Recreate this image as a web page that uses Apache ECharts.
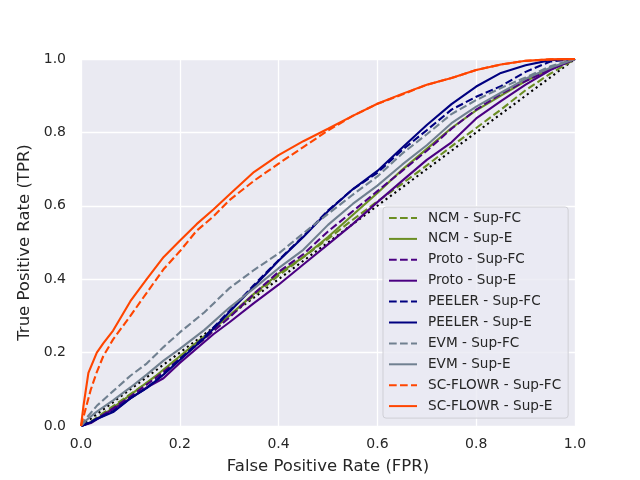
<!DOCTYPE html>
<html>
<head>
<meta charset="utf-8">
<script src="https://cdn.jsdelivr.net/npm/echarts@6/dist/echarts.min.js"></script>
<style>html,body{margin:0;padding:0;background:#fff;}#c{width:640px;height:480px;}</style>
</head>
<body>
<div id="c"></div>
<script>
const xTicks = [0, 0.2, 0.4, 0.6, 0.8, 1.0];
const yTicks = [0, 0.2, 0.4, 0.6, 0.8, 1.0];

const chance = [[0,0],[1,1]];

const ncmSupFC = [[0,0],[0.02,0.012],[0.05,0.04],[0.1,0.087],[0.15,0.132],[0.2,0.186],[0.25,0.238],[0.3,0.298],[0.35,0.355],[0.4,0.41],[0.45,0.46],[0.5,0.51],[0.55,0.562],[0.6,0.612],[0.65,0.66],[0.7,0.71],[0.75,0.762],[0.8,0.812],[0.85,0.862],[0.9,0.915],[0.95,0.96],[1,1]];
const ncmSupE = [[0,0],[0.02,0.01],[0.05,0.035],[0.1,0.085],[0.15,0.135],[0.2,0.19],[0.25,0.245],[0.3,0.3],[0.35,0.36],[0.4,0.415],[0.45,0.46],[0.5,0.515],[0.55,0.575],[0.6,0.635],[0.65,0.698],[0.7,0.755],[0.75,0.812],[0.8,0.86],[0.85,0.9],[0.9,0.94],[0.95,0.972],[1,1]];
const protoSupFC = [[0,0],[0.02,0.01],[0.05,0.035],[0.1,0.08],[0.15,0.13],[0.2,0.182],[0.25,0.238],[0.3,0.295],[0.35,0.36],[0.4,0.42],[0.45,0.468],[0.5,0.53],[0.55,0.585],[0.6,0.64],[0.65,0.695],[0.7,0.75],[0.75,0.81],[0.8,0.862],[0.85,0.905],[0.9,0.94],[0.95,0.972],[1,1]];
const protoSupE = [[0,0],[0.02,0.008],[0.065,0.046],[0.1,0.075],[0.133,0.105],[0.167,0.13],[0.2,0.172],[0.268,0.25],[0.3,0.282],[0.35,0.335],[0.4,0.385],[0.45,0.44],[0.5,0.495],[0.55,0.55],[0.6,0.61],[0.65,0.668],[0.7,0.725],[0.75,0.773],[0.8,0.838],[0.85,0.885],[0.9,0.93],[0.95,0.97],[1,1]];
const peelerSupFC = [[0,0],[0.02,0.011],[0.032,0.02],[0.065,0.04],[0.1,0.076],[0.133,0.104],[0.167,0.142],[0.2,0.182],[0.25,0.243],[0.3,0.313],[0.35,0.384],[0.4,0.452],[0.45,0.517],[0.5,0.587],[0.55,0.645],[0.6,0.69],[0.65,0.752],[0.7,0.806],[0.75,0.862],[0.8,0.897],[0.85,0.926],[0.9,0.965],[0.95,0.993],[1,1]];
const peelerSupE = [[0,0],[0.02,0.01],[0.032,0.019],[0.065,0.038],[0.1,0.075],[0.133,0.103],[0.167,0.14],[0.2,0.18],[0.25,0.24],[0.3,0.31],[0.35,0.38],[0.4,0.45],[0.45,0.515],[0.5,0.585],[0.55,0.645],[0.6,0.695],[0.65,0.758],[0.7,0.82],[0.75,0.877],[0.8,0.925],[0.85,0.962],[0.9,0.983],[0.95,0.997],[1,1]];
const evmSupFC = [[0,0],[0.01,0.02],[0.032,0.055],[0.065,0.095],[0.1,0.137],[0.133,0.17],[0.167,0.215],[0.2,0.255],[0.25,0.31],[0.3,0.375],[0.35,0.425],[0.4,0.47],[0.45,0.525],[0.5,0.578],[0.55,0.63],[0.6,0.68],[0.65,0.742],[0.7,0.795],[0.75,0.85],[0.8,0.888],[0.85,0.921],[0.9,0.95],[0.95,0.98],[1,1]];
const evmSupE = [[0,0],[0.01,0.015],[0.03,0.037],[0.065,0.07],[0.1,0.105],[0.133,0.14],[0.167,0.178],[0.2,0.21],[0.25,0.262],[0.3,0.322],[0.35,0.375],[0.4,0.43],[0.45,0.48],[0.5,0.548],[0.55,0.605],[0.6,0.655],[0.65,0.712],[0.7,0.765],[0.75,0.825],[0.8,0.87],[0.85,0.908],[0.9,0.946],[0.95,0.976],[1,1]];
const scflowrSupFC = [[0,0],[0.01,0.05],[0.02,0.1],[0.032,0.147],[0.045,0.19],[0.065,0.236],[0.1,0.3],[0.133,0.363],[0.167,0.427],[0.2,0.476],[0.234,0.532],[0.268,0.571],[0.3,0.615],[0.35,0.668],[0.4,0.715],[0.45,0.76],[0.5,0.805],[0.55,0.845],[0.6,0.878],[0.65,0.903],[0.7,0.93],[0.75,0.948],[0.8,0.97],[0.85,0.985],[0.9,0.995],[0.95,0.999],[1,1]];
const scflowrSupE = [[0,0],[0.005,0.055],[0.015,0.145],[0.032,0.2],[0.045,0.225],[0.065,0.26],[0.1,0.34],[0.133,0.4],[0.167,0.46],[0.2,0.505],[0.234,0.55],[0.268,0.59],[0.3,0.63],[0.35,0.692],[0.4,0.738],[0.45,0.776],[0.5,0.81],[0.55,0.845],[0.6,0.878],[0.65,0.905],[0.7,0.93],[0.75,0.948],[0.8,0.97],[0.85,0.985],[0.9,0.995],[0.95,0.999],[1,1]];

const names = ['NCM - Sup-FC','NCM - Sup-E','Proto - Sup-FC','Proto - Sup-E','PEELER - Sup-FC','PEELER - Sup-E','EVM - Sup-FC','EVM - Sup-E','SC-FLOWR - Sup-FC','SC-FLOWR - Sup-E'];
const datasets = [ncmSupFC, ncmSupE, protoSupFC, protoSupE, peelerSupFC, peelerSupE, evmSupFC, evmSupE, scflowrSupFC, scflowrSupE];
const colors = ['#6b8e23','#6b8e23','#4b0082','#4b0082','#000080','#000080','#708090','#708090','#ff4500','#ff4500'];

const series = names.map((n, i) => ({
  name: n,
  type: 'line',
  data: datasets[i],
  showSymbol: false,
  symbol: 'none',
  silent: true,
  z: 3 + i,
  lineStyle: { color: colors[i], width: 2.1, type: (i % 2 === 0) ? [7.7, 3.3] : 'solid' },
  itemStyle: { color: colors[i] }
}));
series.unshift({
  name: 'chance', type: 'line', data: chance, showSymbol: false, symbol: 'none', silent: true, z: 2,
  lineStyle: { color: '#000000', width: 2.1, type: [2.1, 3.4] }
});

const chart = echarts.init(document.getElementById('c'), null, { renderer: 'canvas' });
const txt = '#262626';
chart.setOption({
  animation: false,
  backgroundColor: '#ffffff',
  textStyle: { fontFamily: 'DejaVu Sans' },
  grid: { left: 81, right: 65, top: 59, bottom: 53, show: true, backgroundColor: '#eaeaf2', borderWidth: 0 },
  xAxis: {
    type: 'value', min: xTicks[0], max: xTicks[xTicks.length - 1], interval: 0.2,
    name: 'False Positive Rate (FPR)', nameLocation: 'middle', nameGap: 32,
    nameTextStyle: { color: txt, fontSize: 16.5, fontFamily: 'DejaVu Sans' },
    axisLine: { show: false }, axisTick: { show: false },
    axisLabel: { color: txt, fontSize: 14, margin: 11, fontFamily: 'DejaVu Sans', formatter: v => v.toFixed(1) },
    splitLine: { show: true, lineStyle: { color: '#ffffff', width: 1.3 } }
  },
  yAxis: {
    type: 'value', min: yTicks[0], max: yTicks[yTicks.length - 1], interval: 0.2,
    name: 'True Positive Rate (TPR)', nameLocation: 'middle', nameGap: 45,
    nameTextStyle: { color: txt, fontSize: 16.5, fontFamily: 'DejaVu Sans' },
    axisLine: { show: false }, axisTick: { show: false },
    axisLabel: { color: txt, fontSize: 14, margin: 15, fontFamily: 'DejaVu Sans', formatter: v => v.toFixed(1) },
    splitLine: { show: true, lineStyle: { color: '#ffffff', width: 1.3 } }
  },
  legend: {
    data: names,
    orient: 'vertical',
    left: 383, top: 207,
    padding: [4, 7, 5, 5],
    itemWidth: 28, itemHeight: 14, itemGap: 6.9,
    itemStyle: { opacity: 0 },
    backgroundColor: 'rgba(234,234,242,0.8)',
    borderColor: '#cfcfd6', borderWidth: 1, borderRadius: 3,
    textStyle: { color: txt, fontSize: 13.6, fontFamily: 'DejaVu Sans', padding: [0, 0, 0, 6] },
    selectedMode: false
  },
  series: series
});
</script>
</body>
</html>
